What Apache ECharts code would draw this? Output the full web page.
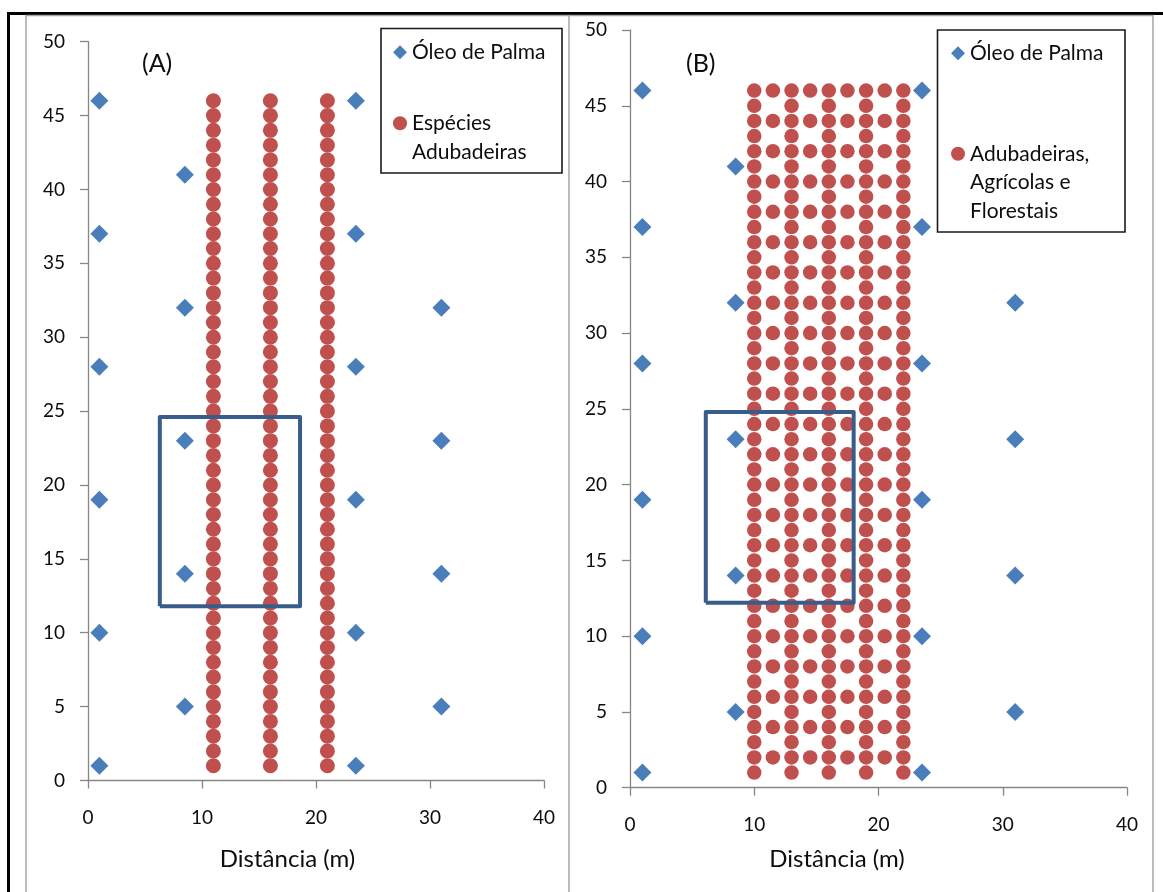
<!DOCTYPE html>
<html>
<head>
<meta charset="utf-8">
<script src="https://cdn.jsdelivr.net/npm/echarts@6/dist/echarts.min.js"></script>
<style>
    html, body { margin: 0; padding: 0; background: #fff; }
    #spacing { width: 1163px; height: 892px; }
</style>
</head>
<body>
<div id="spacing"></div>
<script>
// oil palm rows (same layout in both panels)
const palmColX = [1, 8.5, 23.5, 31]
const palmColY = [
    [1, 10, 19, 28, 37, 46],
    [5, 14, 23, 32, 41],
    [1, 10, 19, 28, 37, 46],
    [5, 14, 23, 32]
]

// (A) green manure rows
const adubColXA = [11, 16, 21]
const adubRowsA = [1, 2, 3, 4, 5, 6, 7, 8, 9, 10, 11, 12, 13, 14, 15, 16, 17, 18, 19, 20, 21, 22, 23,
    24, 25, 26, 27, 28, 29, 30, 31, 32, 33, 34, 35, 36, 37, 38, 39, 40, 41, 42, 43, 44, 45, 46]

// (B) full rows and alternate rows
const fullColXB = [10, 13, 16, 19, 22]
const fullRowsB = [1, 2, 3, 4, 5, 6, 7, 8, 9, 10, 11, 12, 13, 14, 15, 16, 17, 18, 19, 20, 21, 22, 23,
    24, 25, 26, 27, 28, 29, 30, 31, 32, 33, 34, 35, 36, 37, 38, 39, 40, 41, 42, 43, 44, 45, 46]
const halfColXB = [11.5, 14.5, 17.5, 20.5]
const halfRowsB = [2, 4, 6, 8, 10, 12, 14, 16, 18, 20, 22, 24, 26, 28, 30, 32, 34, 36, 38, 40, 42, 44, 46]

// sampling plot outlines (corners)
const plotA = [[6.3, 11.8], [18.6, 11.8], [18.6, 24.6], [6.3, 24.6], [6.3, 11.8]]
const plotB = [[6.1, 12.2], [18, 12.2], [18, 24.8], [6.1, 24.8], [6.1, 12.2]]

const xTicks = [0, 10, 20, 30, 40]
const yTicks = [0, 5, 10, 15, 20, 25, 30, 35, 40, 45, 50]

const nameA = ['Óleo de Palma', 'Espécies Adubadeiras']
const nameB = ['Óleo de Palma', 'Adubadeiras, Agrícolas e Florestais']
const legendText = {
    'Óleo de Palma': 'Óleo de Palma',
    'Espécies Adubadeiras': '\nEspécies\nAdubadeiras',
    'Adubadeiras, Agrícolas e Florestais': '\n\nAdubadeiras,\nAgrícolas e\nFlorestais'
}

function pairs(xs, ys) {
    let out = []
    xs.forEach(function(x, i) {
        let col = Array.isArray(ys[0]) ? ys[i] : ys
        col.forEach(function(y) { out.push([x, y]) })
    })
    return out
}

const font = 'Lato, "Open Sans", sans-serif'
const blue = '#4a7ebb'
const red = '#c0504d'
const axisGray = '#868686'
const ink = '#0d0d0d'

function xAxis(idx, pad, gap) {
    return {
        type: 'value', gridIndex: idx, min: xTicks[0], max: xTicks[xTicks.length - 1], interval: 10,
        name: 'Distância (m)', nameLocation: 'middle', nameGap: gap,
        nameTextStyle: { fontFamily: font, fontSize: 24, color: ink, padding: [0, pad, 0, 0] },
        axisLine: { show: true, lineStyle: { color: axisGray, width: 1.3 } },
        axisTick: { show: true, length: 8, lineStyle: { color: axisGray, width: 1.3 } },
        axisLabel: { fontFamily: font, fontSize: 19, color: ink, margin: 28 },
        splitLine: { show: false }
    }
}
function yAxis(idx) {
    return {
        type: 'value', gridIndex: idx, min: yTicks[0], max: yTicks[yTicks.length - 1], interval: 5,
        axisLine: { show: true, lineStyle: { color: axisGray, width: 1.3 } },
        axisTick: { show: true, length: 8, lineStyle: { color: axisGray, width: 1.3 } },
        axisLabel: { fontFamily: font, fontSize: 19, color: ink, margin: 23 },
        splitLine: { show: false }
    }
}
function legend(left, top, data, gap) {
    return {
        orient: 'vertical', left: left, top: top, padding: 0, itemGap: gap,
        itemWidth: 14, itemHeight: 14, selectedMode: false,
        data: data,
        formatter: function(n) { return legendText[n] },
        textStyle: { fontFamily: font, fontSize: 21, color: ink, lineHeight: 28.5 }
    }
}

let chart = echarts.init(document.getElementById('spacing'))
let option = {
    backgroundColor: '#fff',
    animation: false,
    grid: [
        { left: 88, top: 41.7, width: 456, height: 738.8 },
        { left: 630, top: 30, width: 497, height: 757.7 }
    ],
    xAxis: [xAxis(0, 57, 67), xAxis(1, 83, 60)],
    yAxis: [yAxis(0), yAxis(1)],
    legend: [legend(393, 38, nameA, 14), legend(951, 39, nameB, 15)],
    graphic: [
        { type: 'polyline', shape: { points: [[8.5, 892], [8.5, 13.5], [1163, 13.5]] }, style: { stroke: '#000', lineWidth: 3, fill: null } },
        { type: 'polyline', shape: { points: [[26, 892], [26, 15.5], [569, 15.5], [569, 892]] }, style: { stroke: '#a6a6a6', lineWidth: 1.5, fill: null } },
        { type: 'polyline', shape: { points: [[569, 15.5], [1153, 15.5], [1153, 892]] }, style: { stroke: '#a6a6a6', lineWidth: 1.5, fill: null } },
        { type: 'rect', shape: { x: 381, y: 28.5, width: 181, height: 144.5 }, style: { stroke: '#1a1a1a', lineWidth: 1.6, fill: null } },
        { type: 'rect', shape: { x: 937.5, y: 30, width: 187.5, height: 202 }, style: { stroke: '#1a1a1a', lineWidth: 1.6, fill: null } },
        { type: 'text', left: 142, top: 51, style: { text: '(A)', font: '25px ' + font, fill: ink } },
        { type: 'text', left: 686, top: 51, style: { text: '(B)', font: '25px ' + font, fill: ink } }
    ],
    series: [
        {
            name: 'Óleo de Palma', type: 'scatter', xAxisIndex: 0, yAxisIndex: 0,
            symbol: 'diamond', symbolSize: 18, itemStyle: { color: blue, opacity: 1 },
            data: pairs(palmColX, palmColY)
        },
        {
            name: 'Espécies Adubadeiras', type: 'scatter', xAxisIndex: 0, yAxisIndex: 0,
            symbol: 'circle', symbolSize: 15, itemStyle: { color: red, opacity: 1 },
            data: pairs(adubColXA, adubRowsA)
        },
        {
            name: 'parcela A', type: 'line', xAxisIndex: 0, yAxisIndex: 0, z: 5,
            showSymbol: false, silent: true, clip: false,
            lineStyle: { color: '#385d8a', width: 4, join: 'round' },
            data: plotA
        },
        {
            name: 'Óleo de Palma', type: 'scatter', xAxisIndex: 1, yAxisIndex: 1,
            symbol: 'diamond', symbolSize: 18, itemStyle: { color: blue, opacity: 1 },
            data: pairs(palmColX, palmColY)
        },
        {
            name: 'Adubadeiras, Agrícolas e Florestais', type: 'scatter', xAxisIndex: 1, yAxisIndex: 1,
            symbol: 'circle', symbolSize: 14.5, itemStyle: { color: red, opacity: 1 },
            data: pairs(fullColXB, fullRowsB).concat(pairs(halfColXB, halfRowsB))
        },
        {
            name: 'parcela B', type: 'line', xAxisIndex: 1, yAxisIndex: 1, z: 5,
            showSymbol: false, silent: true, clip: false,
            lineStyle: { color: '#385d8a', width: 4, join: 'round' },
            data: plotB
        }
    ]
}
chart.setOption(option)
</script>
</body>
</html>
